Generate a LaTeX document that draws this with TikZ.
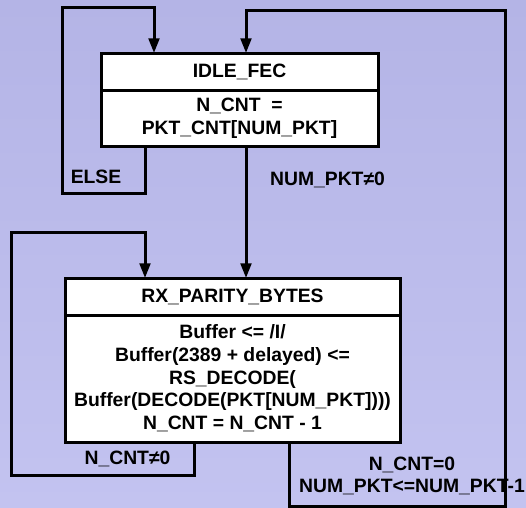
\documentclass[tikz,border=0pt]{standalone}
\usepackage{fontspec}
\setmainfont{Liberation Sans}
\usetikzlibrary{arrows.meta,calc}

\definecolor{bgtop}{RGB}{180,180,230}
\definecolor{bgbottom}{RGB}{195,195,240}

\tikzset{
  txt/.style={font=\fontsize{14.5}{17}\selectfont\bfseries, align=center, inner sep=0pt},
  statehead/.style={txt, draw, fill=white, line width=2.25pt, outer sep=0pt,
                    minimum height=27.75pt},
  statebody/.style={statehead, anchor=north},
  flow/.style={draw, line width=2.25pt, -{Triangle[length=11pt,width=8pt]}}
}

\begin{document}
\begin{tikzpicture}[x=0.75pt, y=-0.75pt]
    % background
    \shade[top color=bgtop, bottom color=bgbottom] (0,0) rectangle (526,508);
    \useasboundingbox (0,0) rectangle (526,508);

    % states
    \node[statehead, minimum width=207.75pt] (idle) at (239.5,71.5) {IDLE\_FEC};
    \node[statebody, minimum width=207.75pt, minimum height=42pt] (idlebody) at (idle.south)
        {N\_CNT\ \ =\\PKT\_CNT[NUM\_PKT]};
    \node[statehead, minimum width=251.25pt] (rx) at (232.5,296.5) {RX\_PARITY\_BYTES};
    \node[statebody, minimum width=251.25pt, minimum height=95.25pt] (rxbody) at (rx.south)
        {Buffer <= /I/\\Buffer(2389 + delayed) <=\\RS\_DECODE(\\%
         Buffer(DECODE(PKT[NUM\_PKT])))\\N\_CNT = N\_CNT - 1};

    % ends of the transitions
    \coordinate (idle out) at ($(idlebody.south west)+(44,0)$);
    \coordinate (idle in)  at ($(idle.north west)+(53,0)$);
    \coordinate (go)       at ($(idlebody.south)+(6.5,0)$);
    \coordinate (rx stay)  at ($(rxbody.south west)+(129,0)$);
    \coordinate (stay in)  at ($(rx.north west)+(80,0)$);
    \coordinate (rx done)  at ($(rxbody.south west)+(224,0)$);
    \coordinate (else nw)  at (62,7);
    \coordinate (stay sw)  at (11,475);
    \coordinate (stay nw)  at (11,232);
    \coordinate (loop se)  at (505,506);
    \coordinate (loop ne)  at (505,10);

    % transitions
    \draw[flow] (idle out) -- ++(0,47) -| (else nw) -| (idle in);
    \draw[flow] (go) -- (go |- rx.north);
    \draw[flow] (rx stay) |- (stay sw) -- (stay nw) -| (stay in);
    \draw[flow] (rx done) |- (loop se) -- (loop ne) -| (go |- idle.north);

    % conditions
    \node[txt] (elselbl) at (96,176.5) {ELSE};
    \node[txt] (golbl) at (327.5,180) {NUM\_PKT≠0};
    \node[txt] (staylbl) at (127.5,459) {N\_CNT≠0};
    \node[txt] (donelbl) at (412,476) {N\_CNT=0\\NUM\_PKT<=NUM\_PKT-1};
\end{tikzpicture}
\end{document}
